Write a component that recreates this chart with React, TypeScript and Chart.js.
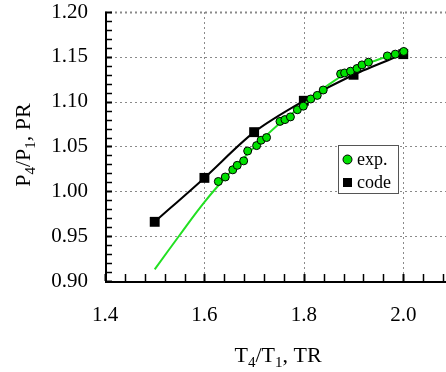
import React, { useEffect, useRef } from "react";
import { Chart, registerables } from "chart.js";

Chart.register(...registerables);

// experimental points (TR, PR)
const expTR = [1.628, 1.642, 1.657, 1.666, 1.679, 1.687, 1.705, 1.714, 1.725, 1.752, 1.762, 1.773, 1.787, 1.799, 1.814, 1.827, 1.839, 1.874, 1.882, 1.894, 1.907, 1.917, 1.93, 1.968, 1.984, 2.001];
const expPR = [1.011, 1.016, 1.024, 1.029, 1.034, 1.045, 1.051, 1.057, 1.06, 1.078, 1.08, 1.083, 1.091, 1.095, 1.103, 1.107, 1.113, 1.131, 1.132, 1.134, 1.137, 1.141, 1.144, 1.151, 1.153, 1.156];
// code results
const codeTR = [1.5, 1.6, 1.7, 1.8, 1.9, 2.0];
const codePR = [0.966, 1.015, 1.066, 1.101, 1.13, 1.153];
// fit curve through experiments (green line)
const fitTR = [1.5, 1.55, 1.6, 1.65, 1.7, 1.75, 1.8, 1.85, 1.9, 1.95, 2.0];
const fitPR = [0.913, 0.951, 0.988, 1.02, 1.049, 1.075, 1.097, 1.119, 1.136, 1.147, 1.156];
// axis ticks
const xTickValues = [1.4, 1.6, 1.8, 2.0];
const yTickValues = [0.9, 0.95, 1.0, 1.05, 1.1, 1.15, 1.2];
const xMinorStep = 0.04;
const yMinorStep = 0.01;

const GREEN = "#00e100";
const FONT = '"Liberation Serif", "Times New Roman", Times, serif';

function drawSubText(ctx: CanvasRenderingContext2D, parts: [string, boolean][], size: number, subSize: number, subDy: number) {
  let total = 0;
  const widths: number[] = [];
  for (const [t, sub] of parts) {
    ctx.font = `${sub ? subSize : size}px ${FONT}`;
    const w = ctx.measureText(t).width;
    widths.push(w);
    total += w;
  }
  let xx = -total / 2;
  parts.forEach(([t, sub], i) => {
    ctx.font = `${sub ? subSize : size}px ${FONT}`;
    ctx.fillText(t, xx, sub ? subDy : 0);
    xx += widths[i];
  });
}

const framePlugin = {
  id: "frame",
  beforeDatasetsDraw(chart: any) {
    const { ctx, chartArea, scales } = chart;
    const { left, right, top, bottom } = chartArea;
    const x = scales.x;
    const y = scales.y;
    ctx.save();
    ctx.strokeStyle = "#8a8a8a";
    ctx.lineWidth = 1;
    ctx.setLineDash([2, 3]);
    xTickValues.forEach((v) => {
      const px = Math.round(x.getPixelForValue(v)) + 0.5;
      if (px <= left + 2) return;
      ctx.beginPath();
      ctx.moveTo(px, top);
      ctx.lineTo(px, bottom);
      ctx.stroke();
    });
    yTickValues.forEach((v) => {
      const py = Math.round(y.getPixelForValue(v)) + 0.5;
      if (py >= bottom - 2) return;
      ctx.lineWidth = py <= top + 2 ? 2 : 1;
      ctx.beginPath();
      ctx.moveTo(left, py);
      ctx.lineTo(right, py);
      ctx.stroke();
    });
    ctx.setLineDash([]);
    ctx.strokeStyle = "#000";
    ctx.lineWidth = 2;
    ctx.beginPath();
    ctx.moveTo(left + 1, top);
    ctx.lineTo(left + 1, bottom + 1);
    ctx.lineTo(right, bottom + 1);
    ctx.stroke();
    const xMin = xTickValues[0];
    for (let i = 0; ; i++) {
      const v = xMin + i * xMinorStep;
      const px = x.getPixelForValue(v);
      if (px > right) break;
      const major = xTickValues.some((t) => Math.abs(t - v) < 1e-6);
      ctx.lineWidth = major ? 2 : 1.5;
      ctx.beginPath();
      ctx.moveTo(Math.round(px) + 0.5, bottom);
      ctx.lineTo(Math.round(px) + 0.5, bottom - 7);
      ctx.stroke();
    }
    const yMin = yTickValues[0];
    for (let i = 0; ; i++) {
      const v = yMin + i * yMinorStep;
      const py = y.getPixelForValue(v);
      if (py < top - 0.5) break;
      const major = yTickValues.some((t) => Math.abs(t - v) < 1e-6);
      ctx.lineWidth = major ? 2 : 1.5;
      ctx.beginPath();
      ctx.moveTo(left, Math.round(py) + 0.5);
      ctx.lineTo(left + 7, Math.round(py) + 0.5);
      ctx.stroke();
    }
    ctx.restore();
  },
  afterDraw(chart: any) {
    const { ctx } = chart;
    ctx.save();
    ctx.fillStyle = "#000";
    ctx.textBaseline = "alphabetic";
    ctx.textAlign = "left";
    ctx.save();
    ctx.translate(278, 362);
    drawSubText(ctx, [["T", false], ["4", true], ["/T", false], ["1", true], [", TR", false]], 22, 15, 5);
    ctx.restore();
    ctx.save();
    ctx.translate(30, 145);
    ctx.rotate(-Math.PI / 2);
    drawSubText(ctx, [["P", false], ["4", true], ["/P", false], ["1", true], [", PR", false]], 22, 15, 5);
    ctx.restore();
    const bx = 338.5, by = 145.5, bw = 60, bh = 48;
    ctx.fillStyle = "#fff";
    ctx.fillRect(bx, by, bw, bh);
    ctx.strokeStyle = "#555";
    ctx.lineWidth = 1;
    ctx.strokeRect(bx, by, bw, bh);
    ctx.beginPath();
    ctx.arc(347.5, 159.5, 4.5, 0, Math.PI * 2);
    ctx.fillStyle = GREEN;
    ctx.fill();
    ctx.strokeStyle = "#000";
    ctx.stroke();
    ctx.fillStyle = "#000";
    ctx.font = `18px ${FONT}`;
    ctx.textBaseline = "middle";
    ctx.fillText("exp.", 357, 160);
    ctx.fillRect(343, 178, 9, 9);
    ctx.fillText("code", 357, 183);
    ctx.restore();
  },
};

export default function App() {
  const ref = useRef<HTMLCanvasElement | null>(null);
  useEffect(() => {
    document.body.style.margin = "0";
    const canvas = ref.current;
    if (!canvas) return;
    const chart = new Chart(canvas, {
      type: "scatter",
      data: {
        datasets: [
          {
            label: "exp.",
            data: expTR.map((v, i) => ({ x: v, y: expPR[i] })),
            showLine: false,
            pointStyle: "circle",
            pointRadius: 4,
            pointBackgroundColor: GREEN,
            pointBorderColor: "#000",
            pointBorderWidth: 1,
            order: 1,
          },
          {
            label: "fit",
            data: fitTR.map((v, i) => ({ x: v, y: fitPR[i] })),
            showLine: true,
            borderColor: "#22e022",
            borderWidth: 2,
            pointRadius: 0,
            tension: 0.4,
            order: 2,
          },
          {
            label: "code",
            data: codeTR.map((v, i) => ({ x: v, y: codePR[i] })),
            showLine: true,
            borderColor: "#000",
            borderWidth: 2,
            tension: 0.3,
            pointStyle: "rect",
            pointRadius: 7,
            pointBackgroundColor: "#000",
            pointBorderColor: "#000",
            pointBorderWidth: 0,
            order: 3,
          },
        ],
      },
      options: {
        responsive: false,
        animation: false,
        layout: { autoPadding: false, padding: { top: 12, right: 0, left: 0, bottom: 0 } },
        plugins: { legend: { display: false }, tooltip: { enabled: false } },
        scales: {
          x: {
            type: "linear",
            min: 1.4,
            max: 2.086,
            afterBuildTicks: (s: any) => {
              s.ticks = xTickValues.map((v) => ({ value: v }));
            },
            afterFit: (s: any) => {
              s.height = 91;
              s.paddingLeft = 0;
              s.paddingRight = 0;
            },
            grid: { display: false, drawTicks: false },
            border: { display: false },
            ticks: {
              padding: 22,
              color: "#000",
              font: { family: FONT, size: 21 },
              callback: (v: any) => Number(v).toFixed(1),
            },
          },
          y: {
            type: "linear",
            min: 0.9,
            max: 1.2,
            afterBuildTicks: (s: any) => {
              s.ticks = yTickValues.map((v) => ({ value: v }));
            },
            afterFit: (s: any) => {
              s.width = 105;
              s.paddingTop = 0;
              s.paddingBottom = 0;
            },
            grid: { display: false, drawTicks: false },
            border: { display: false },
            ticks: {
              padding: 17,
              color: "#000",
              font: { family: FONT, size: 21 },
              callback: (v: any) => Number(v).toFixed(2),
            },
          },
        },
      },
      plugins: [framePlugin],
    });
    return () => chart.destroy();
  }, []);
  return (
    <div style={{ width: 446, height: 372 }}>
      <canvas ref={ref} width={446} height={372} style={{ display: "block" }} />
    </div>
  );
}
